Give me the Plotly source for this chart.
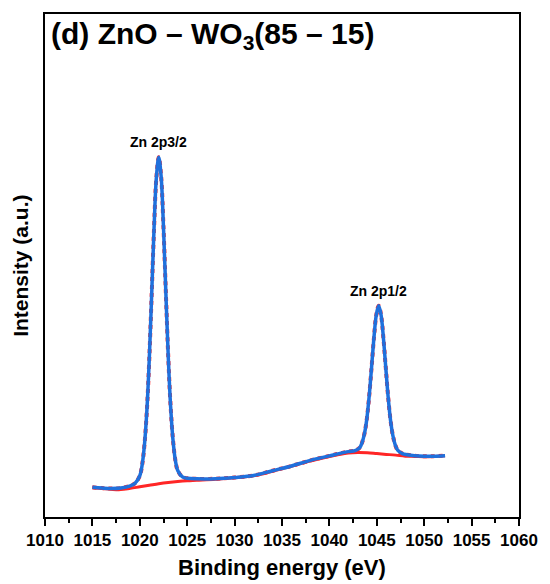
import plotly.graph_objects as go

# Zn 2p core-level spectrum: binding energy (eV) and intensity (a.u.)
energy = [1015.0, 1016.0, 1017.0, 1018.0, 1019.0, 1019.5, 1020.0, 1020.25, 1020.5, 1020.75,
          1021.0, 1021.25, 1021.5, 1021.75, 1022.0, 1022.25, 1022.5, 1022.75, 1023.0, 1023.25,
          1023.5, 1023.75, 1024.0, 1024.5, 1025.0, 1026.0, 1028.0, 1030.0, 1032.0, 1034.0,
          1036.0, 1038.0, 1040.0, 1041.0, 1042.0, 1042.7, 1043.2, 1043.45, 1043.7, 1043.95,
          1044.2, 1044.45, 1044.7, 1044.95, 1045.2, 1045.45, 1045.7, 1045.95, 1046.2, 1046.45,
          1046.7, 1046.95, 1047.2, 1047.7, 1048.2, 1049.0, 1050.0, 1051.0, 1052.2]
intensity = [5.9, 5.75, 5.65, 5.75, 6.2, 6.7, 8.2, 10.4, 14.55, 21.3,
             31.4, 44.1, 57.25, 67.5, 71.5, 67.7, 57.5, 44.5, 31.95, 22.0,
             15.35, 11.3, 9.25, 7.97, 7.7, 7.58, 7.6, 7.85, 8.25, 9.2,
             10.15, 11.25, 12.15, 12.6, 13.0, 13.2, 13.8, 14.8, 16.6, 19.55,
             24.1, 29.8, 35.65, 40.2, 42.0, 40.15, 35.5, 29.6, 23.8, 19.2,
             16.15, 14.3, 13.3, 12.6, 12.37, 12.17, 12.08, 12.1, 12.2]

# Shirley-type background under the peaks
bg_energy = [1015.0, 1016.0, 1017.0, 1018.0, 1019.0, 1020.0, 1021.0, 1022.0, 1023.0, 1024.0,
             1025.0, 1026.0, 1028.0, 1030.0, 1032.0, 1034.0, 1036.0, 1038.0, 1040.0, 1041.0,
             1042.0, 1043.0, 1044.0, 1045.0, 1046.0, 1047.0, 1048.0, 1049.0, 1050.0, 1051.0,
             1052.2]
bg_intensity = [5.8, 5.65, 5.5, 5.45, 5.7, 6.0, 6.3, 6.6, 6.85, 7.05,
                7.2, 7.3, 7.5, 7.8, 8.2, 9.1, 10.1, 11.1, 12.0, 12.4,
                12.7, 12.8, 12.75, 12.6, 12.45, 12.3, 12.1, 12.05, 12.0, 12.05,
                12.2]

peak_labels = ["Zn 2p3/2", "Zn 2p1/2"]
peak_energy = [1022.0, 1045.2]
peak_height = [71.5, 42.0]

x_ticks = list(range(1010, 1061, 5))

FONT = "Arial, Liberation Sans, sans-serif"
RED = "rgb(255,38,38)"
BLUE = "rgb(32,112,220)"

fig = go.Figure()
fig.add_trace(go.Scatter(x=bg_energy, y=bg_intensity, mode="lines",
                         line=dict(color=RED, width=3, shape="spline"),
                         name="Background", showlegend=False))
fig.add_trace(go.Scatter(x=energy, y=intensity, mode="lines",
                         line=dict(color=RED, width=4, shape="spline", dash="dot"),
                         name="Raw data", showlegend=False))
fig.add_trace(go.Scatter(x=energy, y=intensity, mode="lines",
                         line=dict(color=BLUE, width=3.5, shape="spline"),
                         name="Envelope", showlegend=False))

for lab, xe, ye in zip(peak_labels, peak_energy, peak_height):
    fig.add_annotation(x=xe, y=ye, text=lab, showarrow=False, yanchor="bottom", yshift=5,
                       font=dict(family=FONT, size=14, color="black", weight="bold"))

# panel title
fig.add_annotation(xref="paper", yref="paper", x=0.008, y=0.998, xanchor="left", yanchor="top",
                   text="(d) ZnO – WO<sub>3</sub>(85 – 15)", showarrow=False,
                   font=dict(family=FONT, size=30, color="black", weight="bold"))

# axis titles
fig.add_annotation(xref="paper", yref="paper", x=0.5, y=-0.101, xanchor="center", yanchor="middle",
                   text="Binding energy (eV)", showarrow=False,
                   font=dict(family=FONT, size=22, color="black", weight="bold"))
fig.add_annotation(xref="paper", yref="paper", x=-0.052, y=0.5, xanchor="center", yanchor="middle",
                   text="Intensity (a.u.)", textangle=-90, showarrow=False,
                   font=dict(family=FONT, size=21, color="black", weight="bold"))

fig.update_layout(
    width=550, height=584,
    margin=dict(l=45, r=21, t=14, b=67),
    paper_bgcolor="white", plot_bgcolor="white",
    showlegend=False,
    xaxis=dict(
        range=[1010, 1060], tickmode="array", tickvals=x_ticks,
        ticktext=[str(t) for t in x_ticks],
        ticks="outside", ticklen=7, tickwidth=2, tickcolor="black",
        minor=dict(dtick=2.5, tick0=1010, ticks="outside", ticklen=4, tickwidth=2, tickcolor="black"),
        showline=True, linewidth=2, linecolor="black", mirror=True,
        showgrid=False, zeroline=False,
        tickfont=dict(family=FONT, size=17, color="black", weight="bold"),
    ),
    yaxis=dict(
        range=[0, 100], showticklabels=False, ticks="",
        showline=True, linewidth=2, linecolor="black", mirror=True,
        showgrid=False, zeroline=False,
    ),
)

fig.write_html("out.html")
